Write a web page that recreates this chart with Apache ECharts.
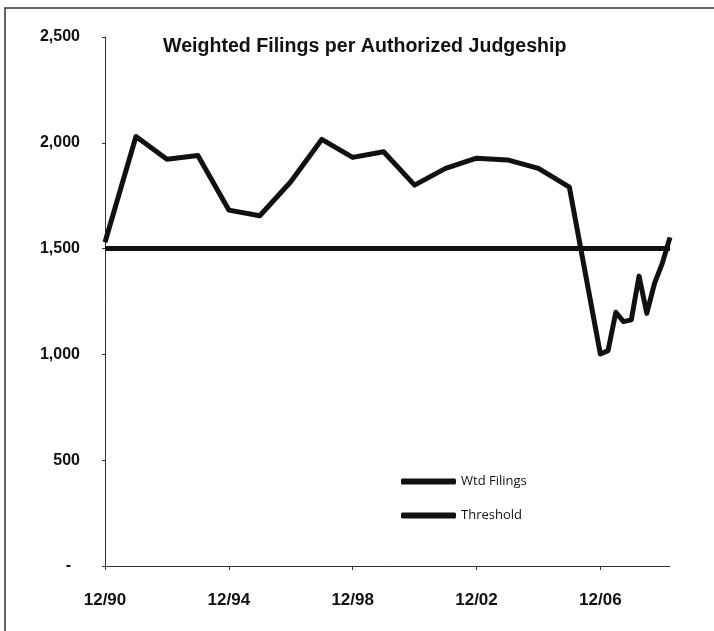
<!DOCTYPE html>
<html>
<head>
<meta charset="utf-8">
<script src="https://cdn.jsdelivr.net/npm/echarts@6/dist/echarts.min.js"></script>
<style>
html,body{margin:0;padding:0;background:#fff;}
#chart{width:714px;height:631px;}
</style>
</head>
<body>
<div id="chart"></div>
<script>
const titleText = "Weighted Filings per Authorized Judgeship";
const periods = ["12/90","12/91","12/92","12/93","12/94","12/95","12/96","12/97","12/98","12/99","12/00","12/01","12/02","12/03","12/04","12/05","12/06","3/07","6/07","9/07","12/07","3/08","6/08","9/08","12/08","3/09"];
const wtdFilings = [1530,2030,1922,1940,1682,1655,1816,2016,1931,1958,1800,1879,1927,1919,1879,1790,1002,1018,1199,1155,1163,1370,1194,1336,1430,1553];
const thresholdPeriods = ["12/90","3/09"];
const threshold = [1500,1500];
const xTickLabels = ["12/90","12/94","12/98","12/02","12/06"];
const yTickValues = [0,500,1000,1500,2000,2500];

function toMonths(p){
  const [m, yy] = p.split('/').map(Number);
  const year = yy < 50 ? 2000 + yy : 1900 + yy;
  return (year - 1990) * 12 + (m - 12);
}
function monthsToLabel(v){
  const total = 1990 * 12 + 11 + v;
  const year = Math.floor(total / 12);
  const month = total % 12 + 1;
  return month + '/' + String(year % 100).padStart(2, '0');
}

const chart = echarts.init(document.getElementById('chart'), null, {renderer:'canvas'});
chart.setOption({
  backgroundColor:'#fff',
  animation:false,
  title:{
    text:titleText,
    left:163, top:37, padding:0,
    textStyle:{fontFamily:'Liberation Sans', fontSize:19.6, fontWeight:'bold', color:'#111'}
  },
  graphic:[{
    type:'rect', silent:true,
    shape:{x:5, y:8, width:730, height:650},
    style:{fill:'none', stroke:'#333', lineWidth:1.5}
  }],
  legend:{
    orient:'vertical', left:401, top:475, itemGap:21, padding:0,
    itemWidth:55, itemHeight:6, icon:'roundRect',
    textStyle:{fontFamily:'Open Sans', fontSize:13, color:'#111'},
    data:['Wtd Filings','Threshold']
  },
  grid:{left:105, right:44, top:37, bottom:65, containLabel:false},
  xAxis:{
    type:'value', min:0, max:toMonths("3/09"), interval:48,
    axisLine:{show:true, lineStyle:{color:'#333', width:1}},
    axisTick:{show:true, length:4, lineStyle:{color:'#333'}},
    splitLine:{show:false},
    axisLabel:{
      margin:26, color:'#111',
      fontFamily:'Liberation Sans', fontSize:17, fontWeight:'bold',
      showMaxLabel:false,
      formatter:function(v){ const l = monthsToLabel(v); return xTickLabels.indexOf(l) >= 0 ? l : ''; }
    }
  },
  yAxis:{
    type:'value', min:0, max:2500, interval:500,
    axisLine:{show:true, lineStyle:{color:'#333', width:1}},
    axisTick:{show:true, length:3, lineStyle:{color:'#333'}},
    splitLine:{show:false},
    axisLabel:{
      margin:25, color:'#111',
      fontFamily:'Liberation Sans', fontSize:16, fontWeight:'bold',
      formatter:function(v){ return yTickValues.indexOf(v) < 0 ? '' : (v === 0 ? '-  ' : v.toLocaleString('en-US')); }
    }
  },
  series:[
    {
      name:'Wtd Filings', type:'line', showSymbol:false, symbol:'none',
      data:periods.map((p,i)=>[toMonths(p), wtdFilings[i]]),
      lineStyle:{color:'#111', width:5, join:'round'},
      itemStyle:{color:'#111'}, z:3
    },
    {
      name:'Threshold', type:'line', showSymbol:false, symbol:'none',
      data:thresholdPeriods.map((p,i)=>[toMonths(p), threshold[i]]),
      lineStyle:{color:'#111', width:5},
      itemStyle:{color:'#111'}, z:2
    }
  ]
});
</script>
</body>
</html>
